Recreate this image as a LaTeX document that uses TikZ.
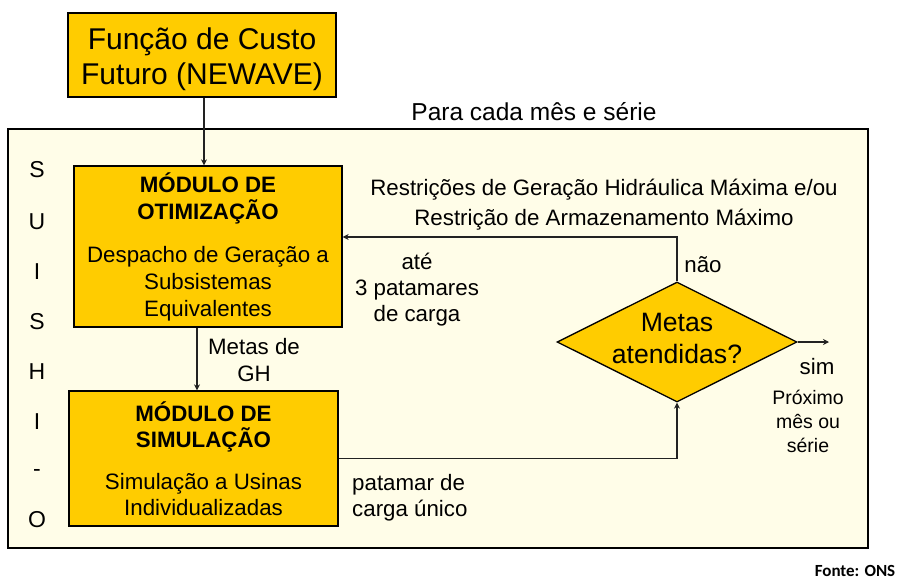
\documentclass[tikz,border=0pt]{standalone}
\usepackage{fontspec}
\setmainfont{Liberation Sans}
\newfontfamily\fontefont{Carlito}
\usetikzlibrary{shapes.geometric,arrows.meta,calc}
\definecolor{boxyellow}{HTML}{FFCC00}
\definecolor{cream}{HTML}{FFFDE8}
\definecolor{linegray}{HTML}{222222}
\begin{document}
\begin{tikzpicture}[x=1pt,y=-1pt,
  ybox/.style={draw=black, line width=1.3pt, fill=boxyellow, inner sep=0pt},
  conn/.style={draw=linegray, line width=1.3pt},
  arr/.style={conn, -{Stealth[length=6pt,width=6pt]}},
  txt/.style={font=\fontsize{22.3}{26}\selectfont, align=center, inner sep=0pt},
  letter/.style={font=\fontsize{23}{26}\selectfont, inner sep=0pt},
]
\useasboundingbox (0,0) rectangle (899,579);
% outer frame
\draw[fill=cream, draw=black, line width=1.3pt] (8,129) rectangle (868,548);
\node[txt, font=\fontsize{24.5}{28}\selectfont] (para) at (534,112) {Para cada mês e série};

% boxes
\node[ybox, minimum width=268pt, minimum height=84pt] (top) at (202,55) {};
\node[txt, font=\fontsize{30}{35}\selectfont] (toptext) at (202,59) {Função de Custo\\Futuro (NEWAVE)};
\node[ybox, minimum width=268pt, minimum height=161pt, align=center,
      font=\fontsize{22.3}{27}\selectfont] (opt) at (208,246.5)
      {\textbf{MÓDULO DE}\\\textbf{OTIMIZAÇÃO}\\[16pt]Despacho de Geração a\\Subsistemas\\Equivalentes};
\node[ybox, minimum width=269pt, minimum height=135pt, align=center,
      font=\fontsize{22.3}{26.5}\selectfont] (sim) at (203.5,458.5)
      {\textbf{MÓDULO DE}\\\textbf{SIMULAÇÃO}\\[15pt]Simulação a Usinas\\Individualizadas};
\node[ybox, shape=diamond, minimum width=240pt, minimum height=120pt] (dia) at (677,342) {};
\node[txt, font=\fontsize{26.6}{32}\selectfont] (diatext) at (677,338) {Metas\\atendidas?};

% SUISHI-O letters
\node[letter] (l1) at (37,170) {S};
\node[letter] (l2) at (37,222) {U};
\node[letter] (l3) at (37,272) {I};
\node[letter] (l4) at (37,322) {S};
\node[letter] (l5) at (37,372) {H};
\node[letter] (l6) at (37,422) {I};
\node[letter] (l7) at (37,473) {-};
\node[letter] (l8) at (37,520) {O};

% labels
\node[txt] (restr1) at (604,190) {Restrições de Geração Hidráulica Máxima e/ou};
\node[txt] (restr2) at (604,220) {Restrição de Armazenamento Máximo};
\node[txt, font=\fontsize{22.3}{26}\selectfont] (ate) at (417,290) {até\\3 patamares\\de carga};
\node[txt, font=\fontsize{22.3}{26.5}\selectfont] (metasgh) at (254,360) {Metas de\\GH};
\node[txt, align=left, anchor=west, font=\fontsize{22.3}{26}\selectfont] (patamar) at (352,498) {patamar de\\carga único};
\node[txt] (nao) at (703,265) {não};
\node[txt] (simlbl) at (817,367) {sim};
\node[txt, font=\fontsize{19.5}{24}\selectfont] (proximo) at (808,421) {Próximo\\mês ou\\série};
\node[inner sep=0pt, font=\fontefont\bfseries\fontsize{17}{20}\selectfont] (fonte) at (855,571) {Fonte: ONS};

% connectors
\draw[arr] ([xshift=2pt]top.south) -- ([xshift=2pt]top.south |- opt.north);
\coordinate (o1) at ($(opt.south)+(-11,0)$);
\draw[arr] (o1) -- (o1 |- sim.north);
\draw[arr] (sim.east) -| (dia.south);
\draw[arr] (dia.north) |- ([yshift=9.5pt]opt.east);
\coordinate (simend) at (829,342);
\draw[arr] (dia.east) -- (simend);
\end{tikzpicture}
\end{document}
